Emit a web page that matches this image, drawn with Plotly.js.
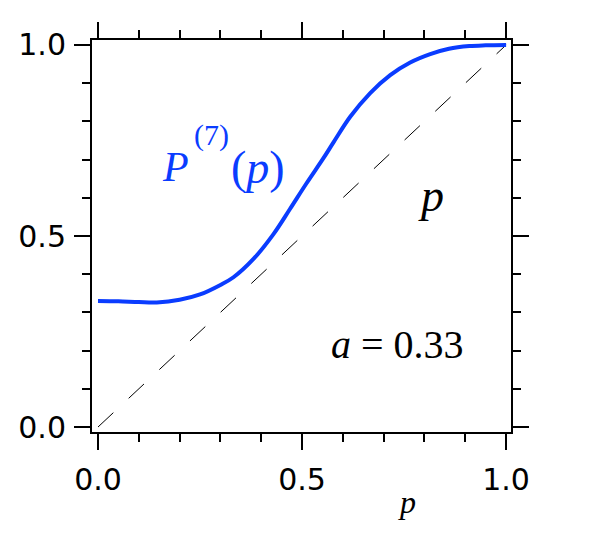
<!DOCTYPE html>
<html>
<head>
<meta charset="utf-8">
<script src="https://cdn.plot.ly/plotly-3.0.1.min.js"></script>
<style>html,body{margin:0;padding:0;background:#fff;}#chart{width:600px;height:542px;}</style>
</head>
<body>
<div id="chart"></div>
<script>
// Curve P^(7)(p) for a = 0.33
var pValues = [0, 0.05, 0.10, 0.144, 0.20, 0.25, 0.30, 0.332, 0.381, 0.43, 0.47, 0.511, 0.552, 0.577, 0.618, 0.667, 0.716, 0.765, 0.814, 0.860, 0.910, 0.95, 1.0];
var PValues = [0.330, 0.329, 0.327, 0.326, 0.333, 0.347, 0.372, 0.392, 0.440, 0.505, 0.570, 0.638, 0.703, 0.745, 0.812, 0.874, 0.921, 0.954, 0.976, 0.990, 0.997, 0.999, 1.0];
// Diagonal reference line P = p
var diagX = [0, 1];
var diagY = [0, 1];
var xTickVals = [0, 0.5, 1.0];
var xTickText = ['0.0', '0.5', '1.0'];
var yTickVals = [0, 0.5, 1.0];
var yTickText = ['0.0', '0.5', '1.0'];

var traces = [
  {x: diagX, y: diagY, mode: 'lines', line: {color: '#000', width: 1, dash: '21px,21px'}, hoverinfo: 'skip'},
  {x: pValues, y: PValues, mode: 'lines', line: {color: '#0a3cff', width: 4, shape: 'spline'}, hoverinfo: 'skip'}
];

var tickFont = {family: 'DejaVu Sans', size: 30, color: '#000'};
var axisCommon = {
  showgrid: false, zeroline: false, showline: true, linecolor: '#000', linewidth: 2,
  mirror: 'allticks', ticks: 'outside', ticklen: 16, tickwidth: 2, tickcolor: '#000',
  tickfont: tickFont,
  minor: {ticks: 'outside', ticklen: 8, tickwidth: 2, tickcolor: '#000', dtick: 0.1, showgrid: false}
};

var serif = 'Liberation Serif';
var layout = {
  width: 600, height: 542,
  margin: {l: 92, r: 89, t: 40, b: 110},
  paper_bgcolor: '#fff', plot_bgcolor: '#fff',
  showlegend: false,
  xaxis: Object.assign({}, axisCommon, {range: [-0.0147, 1.012], tickvals: xTickVals, ticktext: xTickText, ticklabelstandoff: 4}),
  yaxis: Object.assign({}, axisCommon, {range: [-0.013, 1.013], tickvals: yTickVals, ticktext: yTickText, ticklabelstandoff: 2}),
  annotations: [
    // P^(7)(p) label split so the superscript sits high like the reference
    {x: 175, y: 167, xref: 'paper', yref: 'paper', text: '<i>P</i>', showarrow: false,
     font: {family: serif, size: 42, color: '#0a3cff'}},
    {x: 211, y: 135, xref: 'paper', yref: 'paper', text: '(7)', showarrow: false,
     font: {family: serif, size: 30, color: '#0a3cff'}},
    {x: 258, y: 168, xref: 'paper', yref: 'paper', text: '(<i>p</i>)', showarrow: false,
     font: {family: serif, size: 46, color: '#0a3cff'}},
    {x: 0.817, y: 0.607, xref: 'x', yref: 'y', text: '<i>p</i>', showarrow: false,
     font: {family: serif, size: 46, color: '#000'}},
    {x: 0.734, y: 0.215, xref: 'x', yref: 'y', text: '<i>a</i> = 0.33', showarrow: false,
     font: {family: serif, size: 40, color: '#000'}},
    {x: 407, y: 502, xref: 'paper', yref: 'paper', text: '<i>p</i>', showarrow: false,
     font: {family: serif, size: 32, color: '#000'}}
  ]
};

// convert pixel positions (page coords) of free labels into paper fractions
var plotL = layout.margin.l, plotT = layout.margin.t;
var plotW = layout.width - layout.margin.l - layout.margin.r;
var plotH = layout.height - layout.margin.t - layout.margin.b;
layout.annotations.forEach(function (a) {
  a.xanchor = 'center';
  a.yanchor = 'middle';
  if (a.xref === 'paper') {
    a.x = (a.x - plotL) / plotW;
    a.y = 1 - (a.y - plotT) / plotH;
  }
});

Plotly.newPlot('chart', traces, layout, {staticPlot: true, displayModeBar: false});
</script>
</body>
</html>
